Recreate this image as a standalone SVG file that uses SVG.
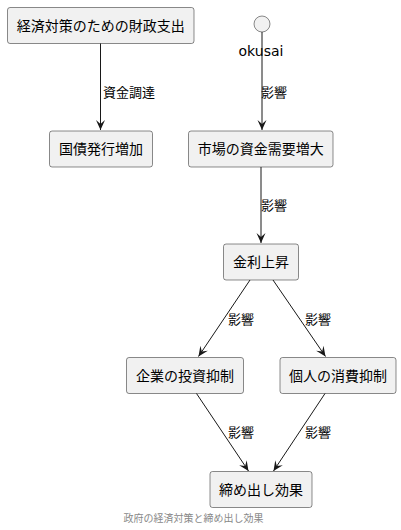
<svg xmlns="http://www.w3.org/2000/svg" width="401" height="530" viewBox="0 0 401 530">
<style>
.node rect{fill:#F1F1F1;stroke:#181818;stroke-width:0.5}
.node text{font-family:"Noto Sans CJK JP","DejaVu Sans",sans-serif;font-size:14px;fill:#000;text-anchor:middle}
.edge line{stroke:#181818;stroke-width:1}
.lbl{font-family:"Noto Sans CJK JP","DejaVu Sans",sans-serif;font-size:13px;fill:#000}
</style>
<defs>
<marker id="ah" viewBox="-11 -6 12 12" refX="0" refY="0" markerWidth="12" markerHeight="12" markerUnits="userSpaceOnUse" orient="auto">
<path d="M0,0 L-10,-4.5 L-6,0 L-10,4.5 Z" fill="#181818"/>
</marker>
</defs>
<rect width="401" height="530" fill="#FFFFFF"/>
<g id="n1" class="node"><rect x="7.5" y="7.5" width="186.5" height="36" rx="2.5"/><text x="100.75" y="30.5">経済対策のための財政支出</text></g>
<g id="n2" class="node"><rect x="49.5" y="131" width="103" height="36" rx="2.5"/><text x="101" y="154">国債発行増加</text></g>
<g id="okusai"><circle cx="262" cy="24" r="8" fill="#F1F1F1" stroke="#181818" stroke-width="0.5"/><text x="261" y="56" font-family="DejaVu Sans,sans-serif" font-size="14" text-anchor="middle">okusai</text></g>
<g id="n3" class="node"><rect x="188.5" y="131" width="144.5" height="36" rx="2.5"/><text x="260.75" y="154">市場の資金需要増大</text></g>
<g id="n4" class="node"><rect x="223.5" y="244" width="75" height="36" rx="2.5"/><text x="261" y="267">金利上昇</text></g>
<g id="n5" class="node"><rect x="126.5" y="357.5" width="117" height="36" rx="2.5"/><text x="185" y="380.5">企業の投資抑制</text></g>
<g id="n6" class="node"><rect x="280" y="357.5" width="116" height="36" rx="2.5"/><text x="338" y="380.5">個人の消費抑制</text></g>
<g id="n7" class="node"><rect x="210" y="471.5" width="102" height="36" rx="2.5"/><text x="261" y="494.5">締め出し効果</text></g>
<g id="edges" class="edge">
<line x1="100.5" y1="43.5" x2="100.5" y2="130" marker-end="url(#ah)"/>
<line x1="262" y1="32" x2="262" y2="130" marker-end="url(#ah)"/>
<line x1="261" y1="167" x2="261" y2="243" marker-end="url(#ah)"/>
<line x1="250" y1="280" x2="198.5" y2="356.5" marker-end="url(#ah)"/>
<line x1="273" y1="280" x2="325.5" y2="356.5" marker-end="url(#ah)"/>
<line x1="196.5" y1="393.5" x2="248.5" y2="471" marker-end="url(#ah)"/>
<line x1="325" y1="393.5" x2="273.5" y2="471" marker-end="url(#ah)"/>
</g>
<g id="labels">
<text class="lbl" x="103" y="97">資金調達</text>
<text class="lbl" x="261" y="97">影響</text>
<text class="lbl" x="261" y="210">影響</text>
<text class="lbl" x="228" y="324">影響</text>
<text class="lbl" x="305" y="324">影響</text>
<text class="lbl" x="228" y="437">影響</text>
<text class="lbl" x="305" y="437">影響</text>
</g>
<text x="193.5" y="522" font-family="Noto Sans CJK JP,DejaVu Sans,sans-serif" font-size="10" fill="#888888" text-anchor="middle">政府の経済対策と締め出し効果</text>
</svg>
